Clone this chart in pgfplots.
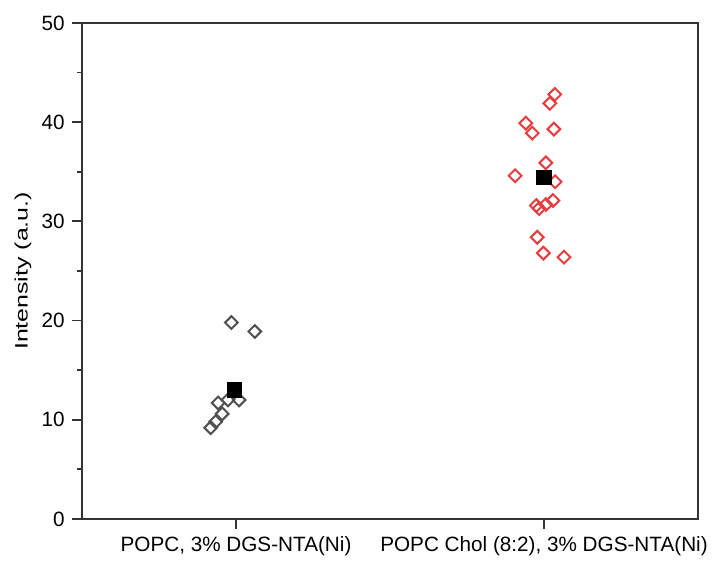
\documentclass[border=0pt]{standalone}
\usepackage{fontspec}
\setmainfont{Liberation Sans}
\usepackage{graphicx}
\usepackage{pgfplots}
\pgfplotsset{compat=1.18}
\definecolor{mkgray}{HTML}{505050}
\definecolor{mkred}{HTML}{E63E40}
\definecolor{axgray}{HTML}{333333}
\begin{document}
\fontsize{10.35pt}{12.4pt}\selectfont
\begin{tikzpicture}
\begin{axis}[
  name=ax,
  scale only axis,
  width=308pt, height=248pt,
  xmin=0.5, xmax=2.5,
  ymin=0, ymax=50,
  xtick={1,2},
  xticklabels={{POPC, 3\% DGS-NTA(Ni)},{POPC Chol (8:2), 3\% DGS-NTA(Ni)}},
  ytick={0,10,20,30,40,50},
  minor ytick={5,15,25,35,45},
  xtick pos=bottom, ytick pos=left,
  tick align=outside,
  major tick length=5pt,
  minor tick length=2.5pt,
  tick style={axgray, line width=0.9pt},
  axis line style={axgray, line width=1pt},
  /pgf/number format/assume math mode=true,
  ticklabel style={font=\fontsize{10.35pt}{12.4pt}\selectfont},
  ylabel={\scalebox{1}[0.72]{\fontsize{12.45pt}{14pt}\selectfont Intensity (a.u.)}},
  ylabel style={at={(axis description cs:-0.0958,0.5)}, anchor=center, inner sep=0pt},
  clip=false,
]
% POPC, 3% DGS-NTA(Ni)
\addplot[only marks, mark=square, mark size=2.25pt, mark options={rotate=45, draw=mkgray, line width=1pt, fill=white}] coordinates {
  (0.985,19.8) (1.061,18.9) (0.942,11.7) (0.974,12.0) (1.010,12.0)
  (0.955,10.6) (0.934,9.8) (0.918,9.2)
};
% POPC Chol (8:2), 3% DGS-NTA(Ni)
\addplot[only marks, mark=square, mark size=2.25pt, mark options={rotate=45, draw=mkred, line width=1pt, fill=white}] coordinates {
  (2.035,42.8) (2.019,41.9) (1.941,39.9) (1.962,38.9) (2.032,39.3)
  (2.006,35.9) (1.906,34.6) (2.036,34.0) (2.029,32.1) (2.006,31.7)
  (1.975,31.6) (1.984,31.3) (1.978,28.4) (1.998,26.8) (2.065,26.4)
};
% means
\addplot[only marks, mark=square*, mark size=3.6pt, mark options={fill=black, draw=black, line width=0pt}] coordinates {
  (0.996,13.0) (2.0,34.4)
};
\end{axis}
\path ([shift={(-41pt,-18.5pt)}]ax.south west) rectangle ([shift={(8.5pt,11.5pt)}]ax.north east);
\end{tikzpicture}
\end{document}
